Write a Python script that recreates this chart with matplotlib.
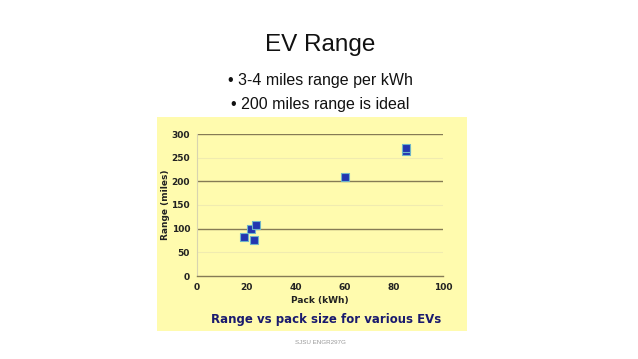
import matplotlib
matplotlib.use("Agg")
import matplotlib.pyplot as plt
from matplotlib.patches import Rectangle

# Data
pack_kwh = [19, 22, 23, 24, 60, 85, 85]
range_miles = [82, 100, 76, 107, 209, 265, 270]
x_ticks = [0, 20, 40, 60, 80, 100]
y_ticks = [0, 50, 100, 150, 200, 250, 300]
bullets = ["\u2022 3-4 miles range per kWh", "\u2022 200 miles range is ideal"]

W, H = 638, 359
fig = plt.figure(figsize=(W / 100, H / 100), dpi=100)
fig.patch.set_facecolor("white")

# Yellow chart panel (behind the axes)
panel_color = "#FFFBAE"
fig.patches.append(Rectangle((157 / W, 1 - 331 / H), (467 - 157) / W, (331 - 117) / H,
                             transform=fig.transFigure, facecolor=panel_color,
                             edgecolor="none", zorder=-1))

# Slide text
fig.text(320 / W, 1 - 45 / H, "EV Range", ha="center", va="center",
         fontsize=17.5, family="Liberation Sans", color="#111111")
fig.text(320 / W, 1 - 80 / H, bullets[0], ha="center", va="center",
         fontsize=11.5, family="Liberation Sans", color="#111111")
fig.text(320 / W, 1 - 105 / H, bullets[1], ha="center", va="center",
         fontsize=11.5, family="Liberation Sans", color="#111111")
fig.text(320 / W, 1 - 342 / H, "SJSU ENGR297G", ha="center", va="center",
         fontsize=4.5, family="Liberation Sans", color="#999999")

ax = fig.add_axes([197 / W, 1 - 276 / H, (443 - 197) / W, (276 - 134) / H])
ax.set_facecolor(panel_color)
ax.set_xlim(0, 100)
ax.set_ylim(0, 300)
ax.set_xticks(x_ticks)
ax.set_yticks(y_ticks)
ax.tick_params(length=0, labelsize=6.5, pad=5, colors="#222222")
for lbl in ax.get_xticklabels() + ax.get_yticklabels():
    lbl.set_fontweight("bold")

# Gridlines: strong at 100s, faint at 50s
for y in [100, 200, 300]:
    ax.axhline(y, color="#857B55", lw=1.0, zorder=1)
for y in [50, 150, 250]:
    ax.axhline(y, color="#F0EBB0", lw=0.8, zorder=1)

for s in ["top", "right"]:
    ax.spines[s].set_visible(False)
ax.spines["left"].set_color("#D8D4B0")
ax.spines["left"].set_linewidth(0.8)
ax.spines["bottom"].set_color("#857B55")
ax.spines["bottom"].set_linewidth(1.0)

ax.scatter(pack_kwh, range_miles, marker="s", s=40, color="#2236B0",
           edgecolors="#6FB4C8", linewidths=0.8, zorder=3)

ax.set_xlabel("Pack (kWh)", fontsize=6.5, fontweight="bold", color="#222222", labelpad=3)
ax.set_ylabel("Range (miles)", fontsize=6.5, fontweight="bold", color="#222222", labelpad=1)

fig.text(326 / W, 1 - 320 / H, "Range vs pack size for various EVs", ha="center",
         va="center", fontsize=8.5, fontweight="bold", color="#1A1A6E")

fig.savefig("out.png", dpi=100, facecolor="white")
